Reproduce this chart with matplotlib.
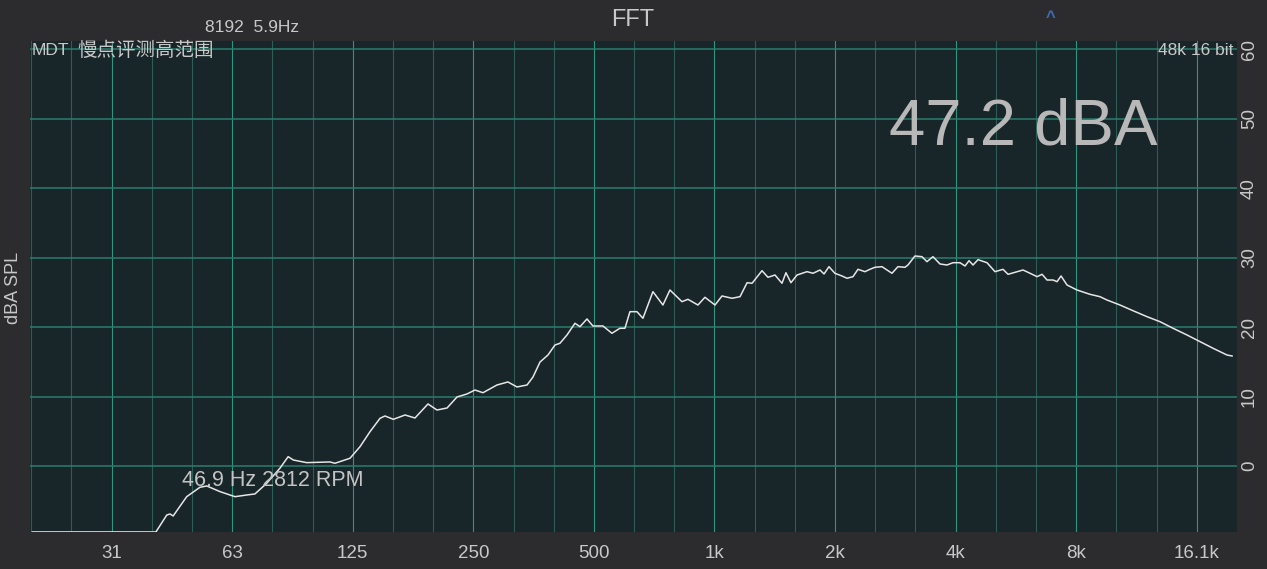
import matplotlib
matplotlib.use('Agg')
import matplotlib.pyplot as plt
from matplotlib.ticker import FixedLocator, NullFormatter

# ---- data ----
freq_hz = [19.8, 40.3, 42.9, 43.7, 44.5, 48.1, 51.9, 54.0, 58.3, 63.5, 67.9, 71.2, 76.2,
           82.2, 86.2, 88.8, 95.9, 109.6, 112.8, 123.0, 130.3, 138.0, 146.2, 150.4, 157.8,
           168.8, 178.7, 192.6, 202.8, 214.9, 227.6, 241.0, 252.3, 264.2, 286.3, 305.0,
           321.2, 340.3, 352.2, 366.7, 383.9, 399.6, 411.3, 428.2, 448.3, 461.4, 480.4,
           497.1, 526.6, 554.5, 580.6, 597.6, 615.0, 640.2, 662.7, 701.9, 743.4, 774.0,
           829.3, 858.4, 909.2, 946.5, 1003, 1044, 1106, 1158, 1206, 1241, 1314, 1360,
           1416, 1474, 1508, 1552, 1607, 1702, 1762, 1834, 1877, 1931, 1998, 2081, 2142,
           2217, 2282, 2375, 2444, 2516, 2619, 2695, 2774, 2871, 2989, 3041, 3166, 3296,
           3392, 3511, 3656, 3806, 3939, 4102, 4222, 4320, 4421, 4550, 4791, 5017, 5253,
           5406, 5628, 5893, 6135, 6387, 6574, 6766, 7003, 7166, 7332, 7590, 8037, 8660,
           9173, 9550, 10290, 11090, 12020, 12950, 13960, 15130, 16310, 17570, 19040, 19600]
level_dba = [-9.5, -9.5, -7.06, -6.91, -7.2, -4.42, -3.07, -2.88, -3.70, -4.42, -4.18, -4.03,
             -2.49, -0.33, 1.34, 0.86, 0.48, 0.58, 0.39, 1.11, 2.78, 4.94, 6.87, 7.20, 6.72,
             7.34, 6.91, 8.93, 8.06, 8.35, 9.94, 10.37, 10.94, 10.55, 11.66, 12.10, 11.38,
             11.66, 12.81, 14.97, 15.98, 17.42, 17.67, 18.86, 20.55, 20.06, 21.17, 20.16,
             20.16, 19.11, 19.83, 19.83, 22.22, 22.22, 21.27, 25.10, 23.18, 25.34, 23.66,
             24.00, 23.18, 24.29, 23.18, 24.48, 24.15, 24.38, 26.39, 26.31, 28.12, 27.17,
             27.50, 26.31, 27.83, 26.39, 27.50, 27.98, 27.75, 28.22, 27.65, 28.70, 27.75,
             27.36, 27.03, 27.26, 28.32, 27.98, 28.32, 28.61, 28.70, 28.22, 27.75, 28.70,
             28.61, 28.94, 30.24, 30.14, 29.42, 30.14, 29.09, 28.94, 29.27, 29.27, 28.80,
             29.56, 28.94, 29.71, 29.27, 27.98, 28.32, 27.60, 27.89, 28.22, 27.75, 27.26,
             27.60, 26.78, 26.78, 26.54, 27.36, 26.06, 25.34, 24.72, 24.38, 23.90, 23.18,
             22.36, 21.50, 20.78, 19.83, 18.86, 17.90, 16.95, 15.98, 15.84]

x_tick_freqs = [31.25, 62.5, 125, 250, 500, 1000, 2000, 4000, 8000, 16000]
x_tick_labels = ['31', '63', '125', '250', '500', '1k', '2k', '4k', '8k', '16.1k']
y_ticks = [0, 10, 20, 30, 40, 50, 60]
third_octave_grid = [1000 * 2 ** (k / 3) for k in range(-17, 14)]

level_text = '47.2 dBA'
peak_text = '46.9 Hz 2812 RPM'
peak_freq = 46.9

# ---- style ----
FIG_BG = '#2c2c2e'
AX_BG = '#182529'
GRID_MAJOR = '#2e957f'
GRID_MINOR = '#2b5e57'
GRID_H = '#2a7d6d'
TXT = '#c8c8c8'
LATIN = ['Liberation Sans', 'DejaVu Sans']
CJK = ['Noto Sans CJK SC', 'DejaVu Sans']

W, H = 1267, 569
fig = plt.figure(figsize=(W / 100, H / 100), dpi=100, facecolor=FIG_BG)
ax = fig.add_axes([30 / W, 36.7 / H, 1206.7 / W, 491.6 / H], facecolor=AX_BG)

ax.set_xscale('log')
ax.set_xlim(19.54, 20130)
ax.set_ylim(-9.55, 61.24)

ax.xaxis.set_major_locator(FixedLocator(x_tick_freqs))
ax.set_xticklabels(x_tick_labels)
ax.xaxis.set_minor_locator(FixedLocator(third_octave_grid))
ax.xaxis.set_minor_formatter(NullFormatter())
ax.set_yticks(y_ticks)
ax.yaxis.tick_right()

ax.grid(which='minor', axis='x', color=GRID_MINOR, lw=0.8)
ax.grid(which='major', axis='x', color=GRID_MAJOR, lw=0.8)
ax.grid(which='major', axis='y', color=GRID_H, lw=1.1)
ax.set_axisbelow(True)

ax.tick_params(axis='x', which='both', length=0, pad=9, labelsize=13.5, labelcolor=TXT)
ax.tick_params(axis='y', which='both', length=0, pad=3, labelsize=13.5, labelcolor=TXT,
               labelrotation=90)
for lab in ax.get_xticklabels() + ax.get_yticklabels():
    lab.set_family(LATIN)
for lab in ax.get_yticklabels():
    lab.set_va('center')

for s in ax.spines.values():
    s.set_visible(False)

ax.plot(freq_hz, level_dba, color='#e6e6e6', lw=1.1, zorder=3, clip_on=True)

# annotations inside the plot
ax.text(peak_freq, -2.1, peak_text, ha='left', va='center', fontsize=15.5,
        color='#c4c4c4', family=LATIN, zorder=4)

fig.text(1023 / W, 1 - 128 / H, level_text, ha='center', va='center', fontsize=47,
         color='#b8b8b8', family=LATIN)
fig.text(32 / W, 1 - 50.5 / H, 'MDT', ha='left', va='center', fontsize=12.5,
         color=TXT, family=LATIN)
fig.text(77 / W, 1 - 50.5 / H, '慢点评测高范围', ha='left', va='center', fontsize=14,
         color=TXT, family=CJK)
fig.text(1233 / W, 1 - 50.5 / H, '48k 16 bit', ha='right', va='center', fontsize=12.5,
         color=TXT, family=LATIN)

# header
fig.text(633 / W, 1 - 20 / H, 'FFT', ha='center', va='center', fontsize=17,
         color=TXT, family=LATIN)
fig.text(252 / W, 1 - 28 / H, '8192  5.9Hz', ha='center', va='center', fontsize=12.5,
         color=TXT, family=LATIN)
fig.text(1051 / W, 1 - 18 / H, '^', ha='center', va='center', fontsize=12,
         color='#3d6fb8', family=LATIN, fontweight='bold')
fig.text(14 / W, 1 - 288 / H, 'dBA SPL', ha='center', va='center', fontsize=13,
         rotation=90, color=TXT, family=LATIN)

fig.savefig('out.png', dpi=100, facecolor=FIG_BG)
